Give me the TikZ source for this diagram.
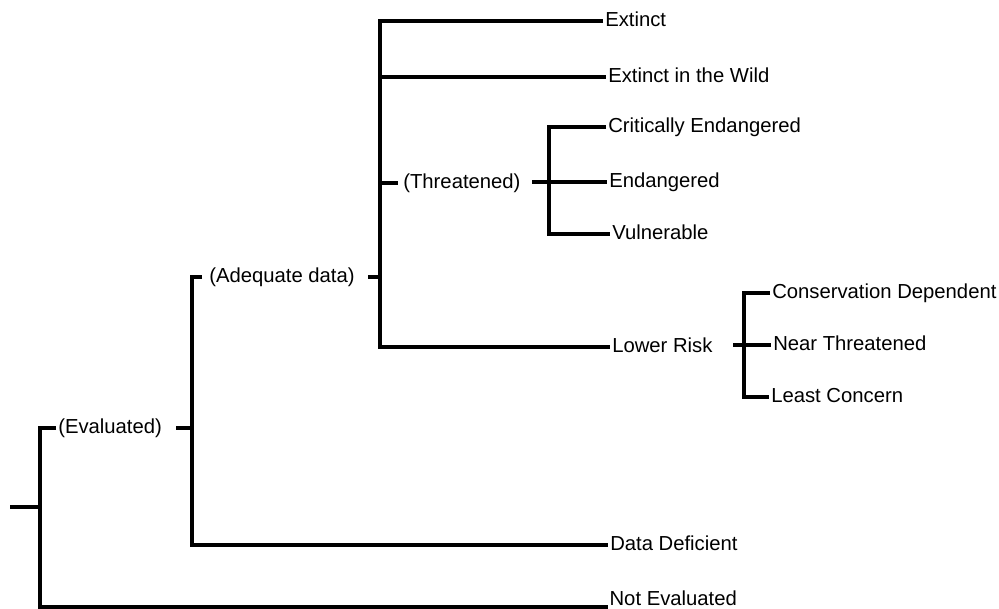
\documentclass[tikz,border=0pt]{standalone}
\usepackage{fontspec}
\setmainfont{Liberation Sans}
\begin{document}
\begin{tikzpicture}[x=0.75pt,y=-0.75pt,
  br/.style={draw, line width=2.5pt, line cap=butt},
  lbl/.style={anchor=west, inner sep=1.5pt, text height=11pt, text depth=3pt,
              font=\fontsize{15.2}{18}\selectfont}]
\useasboundingbox (0,0) rectangle (999,609);
% text nodes
\node[lbl] (ev) at (56,428) {(Evaluated)};
\node[lbl, outer sep=4pt] (ad) at (202,277) {(Adequate data)};
\node[lbl, outer sep=2.5pt] (th) at (398,183) {(Threatened)};
\node[lbl] (ex) at (603,21) {Extinct};
\node[lbl] (ew) at (606,77) {Extinct in the Wild};
\node[lbl] (ce) at (606,127) {Critically Endangered};
\node[lbl] (en) at (607,182) {Endangered};
\node[lbl] (vu) at (610,234) {Vulnerable};
\node[lbl] (lr) at (610,347) {Lower Risk};
\node[lbl] (cd) at (770,293) {Conservation Dependent};
\node[lbl] (nt) at (771,345) {Near Threatened};
\node[lbl] (lc) at (769,397) {Least Concern};
\node[lbl] (dd) at (608,545) {Data Deficient};
\node[lbl, anchor=south west, text depth=0pt, inner sep=1pt] (ne) at (608,607) {Not Evaluated};
% junctions and stub ends
\coordinate (r) at (10,507);
\coordinate (j0) at (40,507);
\coordinate (j1) at (192,428);
\coordinate (j2) at (380,277);
\coordinate (j3) at (549,182);
\coordinate (j4) at (744,345);
\coordinate (evr) at (176,428);
\coordinate (adr) at (368,277);
\coordinate (thr) at (532,182);
\coordinate (lrr) at (733,345);
% root bracket
\draw[br] (r) -- (j0);
\draw[br] (ev.west) -| (j0) |- (ne.south west);
% evaluated bracket
\draw[br] (evr) -- (j1);
\draw[br] (ad.west) -| (j1) |- (dd.west);
% adequate data bracket
\draw[br] (adr) -- (j2);
\draw[br] (ex.west) -| (j2) |- (lr.west);
\draw[br] (ew.west -| j2) -- (ew.west);
\draw[br] (th.west -| j2) -- (th.west);
% threatened bracket
\draw[br] (thr) -- (en.west);
\draw[br] (ce.west) -| (j3) |- (vu.west);
% lower risk bracket
\draw[br] (lrr) -- (nt.west);
\draw[br] (cd.west) -| (j4) |- (lc.west);
\end{tikzpicture}
\end{document}
